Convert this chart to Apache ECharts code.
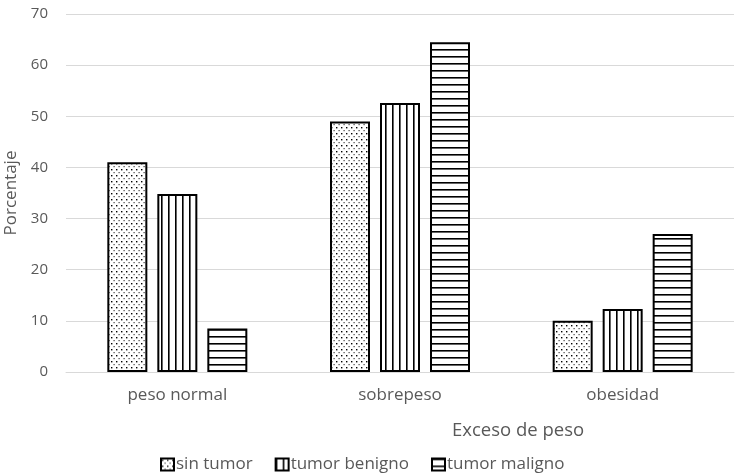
<!DOCTYPE html>
<html><head><meta charset="utf-8">
<script src="https://cdn.jsdelivr.net/npm/echarts@6/dist/echarts.min.js"></script>
<style>html,body{margin:0;padding:0;background:#fff}#c{width:738px;height:475px}</style>
</head><body><div id="c"></div>
<script>
const categories = ['peso normal', 'sobrepeso', 'obesidad'];
const seriesNames = ['sin tumor', 'tumor benigno', 'tumor maligno'];
const sinTumor = [41, 49, 10];
const tumorBenigno = [34.8, 52.6, 12.3];
const tumorMaligno = [8.5, 64.5, 27];
const yTicks = [0, 10, 20, 30, 40, 50, 60, 70];

function makePattern(kind) {
  const c = document.createElement('canvas');
  const ctx = c.getContext('2d');
  if (kind === 'dots') {
    c.width = 5; c.height = 6;
    ctx.fillStyle = '#fff'; ctx.fillRect(0, 0, 5, 6);
    ctx.fillStyle = '#000';
    ctx.fillRect(1, 1, 1.4, 1.4);
    ctx.fillStyle = '#444';
    ctx.fillRect(3.5, 4, 1.2, 1.2);
  } else if (kind === 'vlines') {
    c.width = 7; c.height = 4;
    ctx.fillStyle = '#fff'; ctx.fillRect(0, 0, 7, 4);
    ctx.fillStyle = '#000'; ctx.fillRect(0, 0, 1.6, 4);
  } else {
    c.width = 4; c.height = 7;
    ctx.fillStyle = '#fff'; ctx.fillRect(0, 0, 4, 7);
    ctx.fillStyle = '#000'; ctx.fillRect(0, 0, 4, 1.6);
  }
  return { image: c, repeat: 'repeat' };
}

const patterns = [makePattern('dots'), makePattern('vlines'), makePattern('hlines')];
const dataSets = [sinTumor, tumorBenigno, tumorMaligno];

const chart = echarts.init(document.getElementById('c'), null, { renderer: 'canvas' });
const font = 'Open Sans, Liberation Sans, sans-serif';
chart.setOption({
  animation: false,
  backgroundColor: '#fff',
  grid: { left: 66, right: 4, top: 14, bottom: 103, containLabel: false, outerBoundsMode: 'none' },
  legend: {
    data: seriesNames,
    top: 451, left: 155,
    itemWidth: 13, itemHeight: 12, itemGap: 22,
    icon: 'rect',
    textStyle: { color: '#595959', fontSize: 17, fontFamily: font, padding: [0, 0, 0, -3] }
  },
  xAxis: {
    type: 'category', data: categories,
    axisLine: { lineStyle: { color: '#d9d9d9', width: 1 } },
    axisTick: { show: false },
    axisLabel: { color: '#595959', fontSize: 17, fontFamily: font, margin: 15 }
  },
  yAxis: {
    type: 'value', min: 0, max: 70, interval: 10,
    name: 'Porcentaje', nameLocation: 'middle', nameGap: 44,
    nameTextStyle: { color: '#595959', fontSize: 17, fontFamily: font },
    axisLine: { show: false }, axisTick: { show: false },
    splitLine: { lineStyle: { color: '#d9d9d9', width: 1 } },
    axisLabel: { color: '#595959', fontSize: 15, fontFamily: font, margin: 18,
      formatter: v => yTicks.includes(v) ? String(v) : '' }
  },
  graphic: [{
    type: 'text', left: 452, top: 421,
    style: { text: 'Exceso de peso', fill: '#595959', font: '18.5px ' + font }
  }],
  series: seriesNames.map((n, i) => ({
    name: n, type: 'bar', data: dataSets[i],
    barWidth: 40, barGap: '25%',
    itemStyle: { color: patterns[i], borderColor: '#000', borderWidth: 2 }
  }))
});
</script></body></html>
